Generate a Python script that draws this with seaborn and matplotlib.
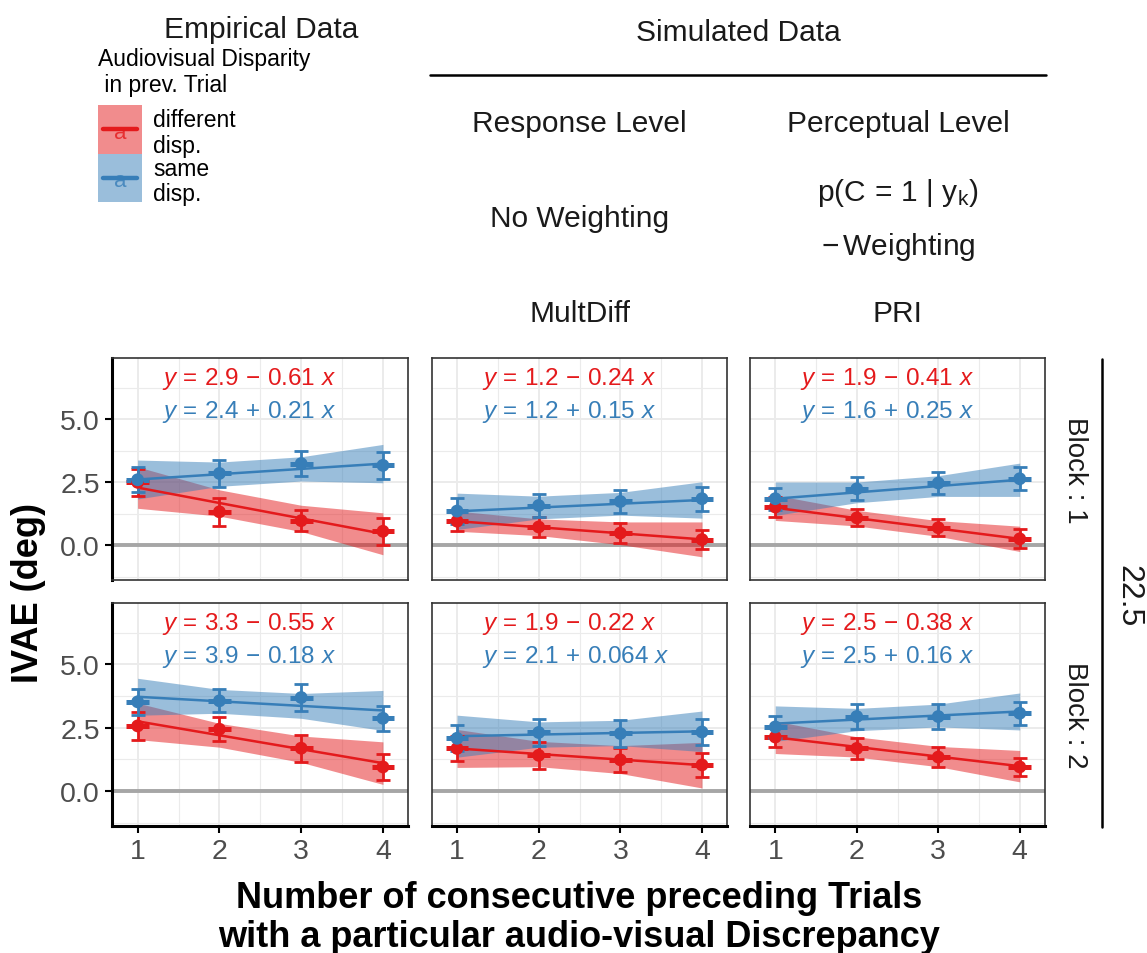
import numpy as np
import pandas as pd
import matplotlib
matplotlib.use("Agg")
import matplotlib.pyplot as plt
import seaborn as sns
from matplotlib.patches import Rectangle
from matplotlib.lines import Line2D

sns.set_theme(style="white")
plt.rcParams["font.family"] = ["Liberation Sans", "DejaVu Sans"]
plt.rcParams["text.color"] = "black"
plt.rcParams["mathtext.fontset"] = "custom"
plt.rcParams["mathtext.rm"] = "Liberation Sans"
plt.rcParams["mathtext.it"] = "Liberation Sans:italic"
plt.rcParams["mathtext.bf"] = "Liberation Sans:bold"

# ---------------------------------------------------------------- data
n_prev = [1, 2, 3, 4]
models = ["Empirical", "MultDiff", "PRI"]
blocks = [1, 2]
groups = ["different\ndisp.", "same\ndisp."]
colors = ["#E41A1C", "#377EB8"]

# rows: (block 1: Empirical, MultDiff, PRI), (block 2: Empirical, MultDiff, PRI)
mean_diff = [[2.50, 1.33, 0.98, 0.56], [0.96, 0.73, 0.49, 0.23], [1.52, 1.09, 0.70, 0.26],
             [2.57, 2.44, 1.69, 0.95], [1.68, 1.41, 1.23, 1.03], [2.13, 1.68, 1.34, 0.95]]
err_diff = [[0.54, 0.55, 0.42, 0.53], [0.39, 0.40, 0.38, 0.39], [0.40, 0.34, 0.33, 0.37],
            [0.54, 0.47, 0.54, 0.50], [0.49, 0.54, 0.48, 0.48], [0.40, 0.42, 0.40, 0.37]]
mean_same = [[2.60, 2.85, 3.24, 3.17], [1.36, 1.58, 1.74, 1.85], [1.85, 2.24, 2.47, 2.64],
             [3.52, 3.56, 3.69, 2.87], [2.08, 2.31, 2.27, 2.33], [2.53, 2.94, 2.94, 3.07]]
err_same = [[0.50, 0.52, 0.48, 0.53], [0.50, 0.44, 0.44, 0.47], [0.43, 0.45, 0.43, 0.46],
            [0.51, 0.45, 0.52, 0.50], [0.52, 0.53, 0.53, 0.53], [0.44, 0.48, 0.48, 0.46]]

# fitted lines (intercept, slope)
icpt_diff = [2.9, 1.2, 1.9, 3.3, 1.9, 2.5]
slope_diff = [-0.61, -0.24, -0.41, -0.55, -0.22, -0.38]
icpt_same = [2.4, 1.2, 1.6, 3.9, 2.1, 2.5]
slope_same = [0.21, 0.15, 0.25, -0.18, 0.064, 0.16]

# confidence band half-widths of the fits at n_prev
band_diff = [[0.82, 0.52, 0.52, 0.83], [0.40, 0.33, 0.45, 0.69], [0.50, 0.31, 0.31, 0.50],
             [0.72, 0.47, 0.52, 0.84], [0.75, 0.50, 0.55, 0.90], [0.64, 0.40, 0.40, 0.62]]
band_same = [[0.77, 0.48, 0.48, 0.76], [0.72, 0.45, 0.45, 0.72], [0.66, 0.41, 0.41, 0.66],
             [0.73, 0.47, 0.49, 0.79], [0.83, 0.50, 0.50, 0.80], [0.70, 0.44, 0.45, 0.73]]

# ---------------------------------------------------------------- layout
W, H = 1147, 954
fig = plt.figure(figsize=(W / 100, H / 100), dpi=100)


def fx(x):
    return x / W


def fy(y):
    return 1 - y / H


col_px = [(112.3, 408.3), (431.7, 727.3), (750.0, 1045.0)]
row_px = [(359.3, 581.0), (604.3, 826.7)]

panel = 0
for r, block in enumerate(blocks):
    for c, model in enumerate(models):
        l, rr = col_px[c]
        t, b = row_px[r]
        ax = fig.add_axes([fx(l), fy(b), (rr - l) / W, (b - t) / H])
        ax.set_facecolor("white")
        ax.set_xlim(0.69, 4.31)
        ax.set_ylim(-1.37, 7.41)
        ax.set_xticks(n_prev)
        ax.set_xticks([1.5, 2.5, 3.5], minor=True)
        ax.set_yticks([0, 2.5, 5])
        ax.set_yticks([-1.25, 1.25, 3.75, 6.25], minor=True)
        ax.set_yticklabels(["0.0", "2.5", "5.0"])
        ax.grid(which="major", color="#EBEBEB", lw=1.4)
        ax.grid(which="minor", color="#EBEBEB", lw=0.8)
        ax.set_axisbelow(True)
        ax.axhline(0, color="#A6A6A6", lw=2.8, zorder=1)

        series = [
            (mean_diff, err_diff, icpt_diff, slope_diff, band_diff, colors[0]),
            (mean_same, err_same, icpt_same, slope_same, band_same, colors[1]),
        ]
        for mean, err, icpt, slope, band, col in series:
            xs = np.array(n_prev, dtype=float)
            fit = icpt[panel] + slope[panel] * xs
            hw = np.array(band[panel])
            ax.fill_between(xs, fit - hw, fit + hw, color=col, alpha=0.5, lw=0, zorder=2)
        for mean, err, icpt, slope, band, col in series:
            xs = np.array(n_prev, dtype=float)
            fit = icpt[panel] + slope[panel] * xs
            sns.lineplot(x=xs, y=fit, color=col, lw=1.8, ax=ax, zorder=3)
            ax.errorbar(xs, mean[panel], yerr=err[panel], fmt="none", ecolor=col,
                        elinewidth=2.0, capsize=4.8, capthick=2.0, zorder=4)
            ax.errorbar(xs, mean[panel], xerr=0.14, fmt="none", ecolor=col,
                        elinewidth=3.6, capsize=0, zorder=4)
            sns.scatterplot(x=xs, y=mean[panel], color=col, s=85, edgecolor="none",
                            ax=ax, zorder=5, legend=False)

        # equation labels
        for k, (icpt, slope, yv, col) in enumerate([
                (icpt_diff, slope_diff, 6.39, colors[0]),
                (icpt_same, slope_same, 5.08, colors[1])]):
            a, s = icpt[panel], slope[panel]
            sign = "-" if s < 0 else "+"
            lab = rf"$y\,=\,{a:g}\,{sign}\,{abs(s):g}\ x$"
            ax.text(1.30, yv, lab, color=col, fontsize=17.5, ha="left", va="baseline")

        for sp in ax.spines.values():
            sp.set_visible(True)
            sp.set_color("#333333")
            sp.set_linewidth(1.2)
        if c == 0:
            ax.spines["left"].set_color("black")
            ax.spines["left"].set_linewidth(2.2)
        if r == 1:
            ax.spines["bottom"].set_color("black")
            ax.spines["bottom"].set_linewidth(2.2)

        ax.tick_params(which="minor", length=0)
        ax.tick_params(which="major", length=5, width=1.5, color="black",
                       labelsize=20.5, labelcolor="#4D4D4D", pad=4,
                       left=(c == 0), labelleft=(c == 0),
                       bottom=(r == 1), labelbottom=(r == 1))
        ax.set_xlabel("")
        ax.set_ylabel("")
        panel += 1

# ---------------------------------------------------------------- strips and headers
hdr = dict(fontsize=21.5, color="#1A1A1A", ha="center", va="baseline")
fig.text(fx(261), fy(38), "Empirical Data", **hdr)
fig.text(fx(738.5), fy(41), "Simulated Data", **hdr)
fig.add_artist(Line2D([fx(430), fx(1046)], [fy(76), fy(76)], color="black", lw=1.8))
fig.text(fx(579.5), fy(132), "Response Level", **hdr)
fig.text(fx(898), fy(132), "Perceptual Level", **hdr)
fig.text(fx(579.5), fy(227), "No Weighting", **hdr)
fig.text(fx(898), fy(201),
         r"$\mathrm{p}\left(\mathrm{C}\,=\,1\ |\ \mathrm{y}_{\mathrm{k}}\right)$", **hdr)
fig.text(fx(898), fy(255), r"$-\,$Weighting", **hdr)
fig.text(fx(579.5), fy(322), "MultDiff", **hdr)
fig.text(fx(897.5), fy(322), "PRI", **hdr)

for r, block in enumerate(blocks):
    t, b = row_px[r]
    fig.text(fx(1075), fy((t + b) / 2), f"Block : {block}", rotation=-90,
             fontsize=20, color="#1A1A1A", ha="center", va="center")
fig.add_artist(Line2D([fx(1102), fx(1102)], [fy(360), fy(828)], color="black", lw=1.8))
fig.text(fx(1128), fy(596), "22.5", rotation=-90, fontsize=23, color="#1A1A1A",
         ha="center", va="center")

# ---------------------------------------------------------------- axis titles
fig.text(fx(29), fy(593), "IVAE (deg)", rotation=90, fontsize=26, fontweight="bold",
         ha="center", va="center")
fig.text(fx(579.5), fy(908), "Number of consecutive preceding Trials", fontsize=26,
         fontweight="bold", ha="center", va="baseline")
fig.text(fx(579.5), fy(947), "with a particular audio-visual Discrepancy", fontsize=26,
         fontweight="bold", ha="center", va="baseline")

# ---------------------------------------------------------------- legend
fig.text(fx(98), fy(66), "Audiovisual Disparity", fontsize=16.5, ha="left", va="baseline")
fig.text(fx(98), fy(92), " in prev. Trial", fontsize=16.5, ha="left", va="baseline")
key_top = [106, 154.5]
key_h = 48.5
label_base = [(127, 153), (176, 201)]
for k, (grp, col) in enumerate(zip(groups, colors)):
    y0 = key_top[k]
    fig.add_artist(Rectangle((fx(98), fy(y0 + key_h)), 44 / W, key_h / H,
                             facecolor=col, alpha=0.5, edgecolor="none"))
    yc = y0 + key_h / 2
    fig.add_artist(Line2D([fx(103), fx(137)], [fy(yc), fy(yc)], color=col, lw=3.2))
    fig.text(fx(120), fy(yc + 3), "a", color=col, alpha=0.8, fontsize=16,
             ha="center", va="center")
    l1, l2 = grp.split("\n")
    fig.text(fx(153), fy(label_base[k][0]), l1, fontsize=16.5, ha="left", va="baseline")
    fig.text(fx(153), fy(label_base[k][1]), l2, fontsize=16.5, ha="left", va="baseline")

fig.savefig("out.png", dpi=100, facecolor="white")
